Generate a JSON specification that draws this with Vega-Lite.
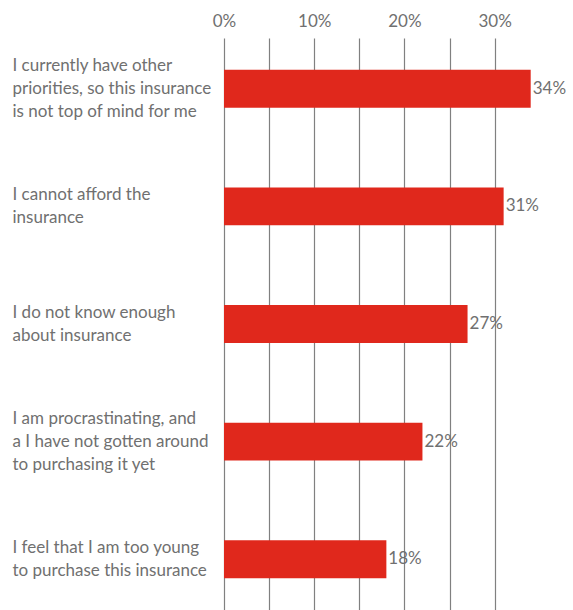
{
  "$schema": "https://vega.github.io/schema/vega-lite/v6.json",
  "autosize": {"type": "none"},
  "padding": {"left": 224, "top": 38, "right": 0, "bottom": 0},
  "width": 349,
  "height": 572,
  "background": "white",
  "config": {"view": {"stroke": null}, "font": "Lato"},
  "data": {
    "values": [
      {"reason": "I currently have other|priorities, so this insurance|is not top of mind for me", "value": 34},
      {"reason": "I cannot afford the|insurance", "value": 31},
      {"reason": "I do not know enough|about insurance", "value": 27},
      {"reason": "I am procrastinating, and|a I have not gotten around|to purchasing it yet", "value": 22},
      {"reason": "I feel that I am too young|to purchase this insurance", "value": 18}
    ]
  },
  "encoding": {
    "y": {
      "field": "reason",
      "type": "nominal",
      "sort": null,
      "scale": {"paddingInner": 0.677, "paddingOuter": 0.27},
      "axis": {
        "title": null,
        "domain": false,
        "ticks": false,
        "labelAlign": "left",
        "labelPadding": 212,
        "labelBaseline": "middle",
        "labelFontSize": 17,
        "labelLineHeight": 23,
        "labelColor": "#707070",
        "labelLimit": 0,
        "labelExpr": "split(datum.label, '|')",
        "labelOffset": {"condition": {"test": "length(split(datum.label, '|')) === 3", "value": -23}, "value": -11.5}
      }
    },
    "x": {
      "field": "value",
      "type": "quantitative",
      "scale": {"domain": [0, 38.69], "nice": false},
      "axis": {
        "orient": "top",
        "title": null,
        "domain": false,
        "ticks": false,
        "values": [0, 5, 10, 15, 20, 25, 30],
        "labelExpr": "datum.value % 10 === 0 ? datum.value + '%' : ''",
        "labelFontSize": 17,
        "labelColor": "#707070",
        "labelPadding": 8,
        "grid": true,
        "gridColor": "#808080",
        "gridWidth": 1.2,
        "labelFlush": false
      }
    }
  },
  "layer": [
    {"mark": {"type": "bar", "color": "#E0281C"}},
    {
      "transform": [{"calculate": "datum.value + '%'", "as": "label"}],
      "mark": {"type": "text", "align": "left", "dx": 2, "fontSize": 17, "color": "#707070", "baseline": "middle"},
      "encoding": {"text": {"field": "label", "type": "nominal"}}
    }
  ]
}
